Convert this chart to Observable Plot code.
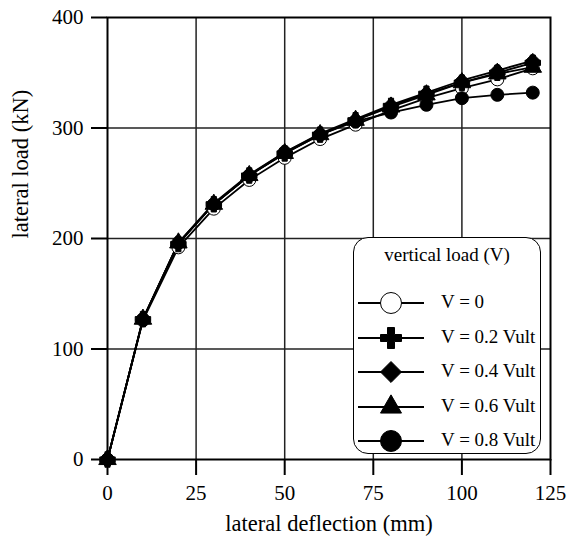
<!DOCTYPE html>
<html>
<head>
<meta charset="utf-8">
<script src="https://cdn.jsdelivr.net/npm/d3@7"></script>
<script src="https://cdn.jsdelivr.net/npm/@observablehq/plot@0.6"></script>
<style>
  html, body { margin: 0; padding: 0; background: #fff; }
  #wrap { position: relative; width: 568px; height: 540px; font-family: "Liberation Serif", "DejaVu Serif", serif; }
  #wrap svg { font-family: "Liberation Serif", "DejaVu Serif", serif !important; }
  #wrap svg text { font-family: "Liberation Serif", "DejaVu Serif", serif !important; }
  #wrap svg g[aria-label^="x-axis"] line, #wrap svg g[aria-label^="x-axis"] path,
  #wrap svg g[aria-label^="y-axis"] line, #wrap svg g[aria-label^="y-axis"] path { stroke-width: 2px; }
  #legend { position: absolute; left: 353px; top: 237px; width: 188px; height: 217px; box-sizing: border-box;
    border: 1.5px solid #000; border-radius: 15px; background: #fff; font-size: 19px; color: #000; }
  #legend .title { position: absolute; left: 0; right: 0; top: 6px; text-align: center; }
  #legend .row { position: absolute; left: 0; height: 30px; }
  #legend .row svg { position: absolute; left: 3px; top: 0; }
  #legend .row span { position: absolute; left: 87px; top: 3px; white-space: nowrap; }
</style>
</head>
<body>
<div id="wrap"></div>
<script>
const deflection = [0, 10, 20, 30, 40, 50, 60, 70, 80, 90, 100, 110, 120];
const seriesNames = ["V = 0", "V = 0.2 Vult", "V = 0.4 Vult", "V = 0.6 Vult", "V = 0.8 Vult"];
const v0  = [0, 126, 192, 227, 253, 273, 290, 303, 316, 327, 336, 344, 354];
const v02 = [0, 127, 195, 231, 257, 277, 294, 307, 320, 331, 341, 350, 359];
const v04 = [0, 127, 196, 232, 258, 278, 295, 308, 321, 332, 343, 352, 361];
const v06 = [0, 127, 196, 231, 257, 277, 294, 307, 319, 330, 341, 349, 355];
const v08 = [0, 127, 196, 231, 257, 278, 294, 306, 314, 321, 327, 330, 332];
const xTicks = [0, 25, 50, 75, 100, 125];
const yTicks = [0, 100, 200, 300, 400];
const xGrid = [25, 50, 75, 100];
const yGrid = [100, 200, 300];
const xLabel = "lateral deflection (mm)";
const yLabel = "lateral load (kN)";
const legendTitle = "vertical load (V)";

const seriesValues = [v0, v02, v04, v06, v08];
const symbols = ["circle", "cross", "diamond2", "triangle", "circle"];
const d3symbols = [d3.symbolCircle, d3.symbolCross, d3.symbolDiamond2, d3.symbolTriangle, d3.symbolCircle];
const legendSizes = [346, 245, 281, 191, 346];
const fills = ["white", "black", "black", "black", "black"];

const rows = [];
seriesNames.forEach((s, i) => deflection.forEach((x, j) => rows.push({s, x, y: seriesValues[i][j]})));

const dotMarks = seriesNames.map((s, i) =>
  Plot.dot(rows.filter(d => d.s === s), {x: "x", y: "y", symbol: symbols[i], r: 6.5, fill: fills[i], stroke: "black", strokeWidth: 1})
);

const chart = Plot.plot({
  width: 568,
  height: 540,
  marginLeft: 107,
  marginRight: 18,
  marginTop: 17,
  marginBottom: 81,
  style: {fontFamily: "'Liberation Serif', serif", fontSize: "21px", background: "white", color: "black"},
  x: {domain: [0, 125], ticks: xTicks, tickSize: 16, tickPadding: 10, label: null},
  y: {domain: [0, 400], ticks: yTicks, tickSize: 16, tickPadding: 8, label: null},
  marks: [
    Plot.ruleX(xGrid, {stroke: "#222", strokeWidth: 1.5}),
    Plot.ruleY(yGrid, {stroke: "#222", strokeWidth: 1.5}),
    Plot.frame({stroke: "black", strokeWidth: 2}),
    Plot.line(rows, {x: "x", y: "y", z: "s", stroke: "black", strokeWidth: 1.8}),
    ...dotMarks,
    Plot.text([xLabel], {text: d => d, frameAnchor: "bottom", dy: 64, lineAnchor: "middle", fontSize: 22.5}),
    Plot.text([yLabel], {text: d => d, frameAnchor: "left", dx: -87, rotate: -90, lineAnchor: "middle", fontSize: 22.5})
  ]
});

const wrap = document.getElementById("wrap");
wrap.appendChild(chart);

// legend
const legend = document.createElement("div");
legend.id = "legend";
const t = document.createElement("div");
t.className = "title";
t.textContent = legendTitle;
legend.appendChild(t);
const rowTops = [65 - 15, 99.5 - 15, 134 - 15, 168.5 - 15, 203 - 15];
seriesNames.forEach((s, i) => {
  const row = document.createElement("div");
  row.className = "row";
  row.style.top = rowTops[i] + "px";
  row.style.width = "186px";
  const svg = d3.create("svg").attr("width", 70).attr("height", 30);
  svg.append("line").attr("x1", 1).attr("x2", 67).attr("y1", 15).attr("y2", 15).attr("stroke", "black").attr("stroke-width", 2);
  svg.append("path").attr("transform", "translate(34,15)")
    .attr("d", d3.symbol(d3symbols[i], legendSizes[i])())
    .attr("fill", fills[i]).attr("stroke", "black").attr("stroke-width", 1);
  row.appendChild(svg.node());
  const sp = document.createElement("span");
  sp.textContent = s;
  row.appendChild(sp);
  legend.appendChild(row);
});
wrap.appendChild(legend);
</script>
</body>
</html>
